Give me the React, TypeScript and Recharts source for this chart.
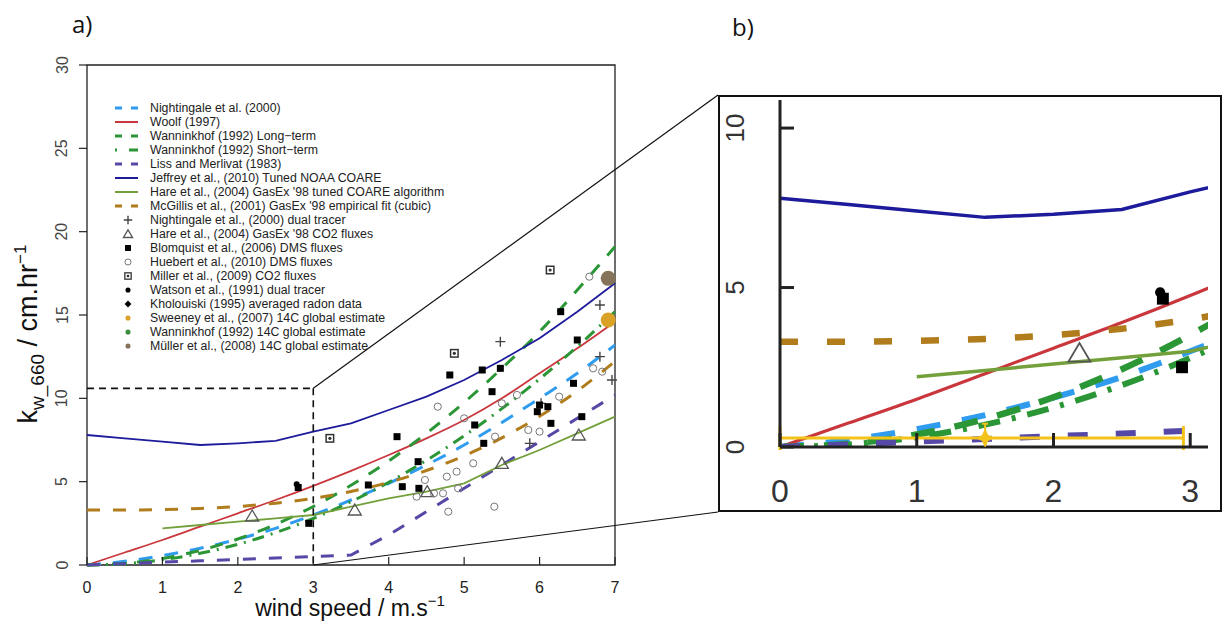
import {
  ComposedChart,
  ErrorBar,
  Legend,
  Line,
  ReferenceArea,
  ReferenceLine,
  Scatter,
  XAxis,
  YAxis,
} from "recharts"

const FONT = '"Liberation Sans", Arial, Helvetica, sans-serif'

// wind speed grid (m/s) for the parameterisation curves
const windGrid = [0, 0.5, 1, 1.5, 2, 2.5, 3, 3.5, 4, 4.5, 5, 5.5, 6, 6.5, 7]

// k_w_660 (cm/hr)
const nightingale2000 = [0, 0.22, 0.56, 1.0, 1.55, 2.2, 3.0, 3.9, 4.9, 6.0, 7.2, 8.55, 10.0, 11.5, 13.2]
const woolf1997 = [0, 0.75, 1.5, 2.3, 3.1, 3.9, 4.75, 5.65, 6.6, 7.6, 8.7, 10.0, 11.5, 13.0, 14.6]
const wanninkhofLong = [0, 0.1, 0.39, 0.88, 1.56, 2.44, 3.51, 4.78, 6.24, 7.9, 9.75, 11.8, 14.0, 16.5, 19.1]
const wanninkhofShort = [0, 0.08, 0.31, 0.7, 1.24, 1.94, 2.79, 3.8, 4.96, 6.28, 7.75, 9.38, 11.16, 13.1, 15.2]
const lissMerlivat = [0, 0.08, 0.17, 0.25, 0.34, 0.42, 0.51, 0.6, 1.8, 3.2, 4.6, 6.0, 7.4, 8.8, 10.2]
const jeffrey2010 = [7.8, 7.6, 7.4, 7.2, 7.3, 7.45, 8.0, 8.5, 9.3, 10.1, 11.1, 12.3, 13.6, 15.2, 16.9]
const hare2004Coare = [null, null, 2.2, 2.4, 2.6, 2.8, 3.0, 3.5, 4.0, 4.4, 4.9, 6.0, 6.9, 7.9, 8.9]
const mcgillis2001 = [3.3, 3.3, 3.33, 3.39, 3.51, 3.71, 4.0, 4.41, 4.96, 5.67, 6.55, 7.63, 8.92, 10.44, 12.22]

// observations [wind speed, k]
const nightingaleDualTracer = [[5.48, 13.4], [5.87, 7.3], [6.02, 9.7], [6.8, 15.6], [6.8, 12.5], [6.96, 11.1]]
const hareCO2Fluxes = [[2.19, 2.94], [3.55, 3.3], [4.51, 4.4], [5.5, 6.1], [6.52, 7.8]]
const blomquistDMS = [
  [2.8, 4.65], [2.94, 2.5], [3.73, 4.8], [4.11, 7.7], [4.18, 4.7], [4.4, 4.6], [4.39, 6.2],
  [4.81, 11.4], [5.14, 8.4], [5.24, 11.7], [5.26, 7.3], [5.37, 10.4], [5.48, 11.8], [5.97, 9.2],
  [6.0, 9.6], [6.11, 9.5], [6.15, 8.5], [6.28, 15.2], [6.45, 10.9], [6.5, 13.5], [6.56, 8.9],
]
const huebertDMS = [
  [4.37, 4.1], [4.48, 5.1], [4.6, 4.3], [4.65, 9.5], [4.72, 4.3], [4.77, 5.3], [4.79, 3.2],
  [4.9, 5.6], [4.92, 4.6], [5.0, 8.8], [5.12, 6.1], [5.4, 3.5], [5.41, 7.7], [5.5, 9.7],
  [5.7, 10.2], [5.85, 8.1], [6.0, 8.0], [6.26, 10.1], [6.66, 17.3], [6.71, 11.8], [6.83, 11.6],
]
const millerCO2 = [[3.22, 7.6], [4.87, 12.7], [6.14, 17.7]]
const watsonDualTracer = [[2.78, 4.85]]
const kholouiskiRadon: number[][] = []
const sweeney14C = [[6.91, 14.7]]
const wanninkhof14C: number[][] = []
const muller14C = [[6.91, 17.2]]

// yellow estimate with error bars in the inset
const insetEstimate = [{ u: 1.5, k: 0.28, ex: [1.5, 1.45], ey: [0.28, 0.45] }]

const curveTable = windGrid.map((u, i) => ({
  u,
  nightingale: nightingale2000[i],
  woolf: woolf1997[i],
  wannLong: wanninkhofLong[i],
  wannShort: wanninkhofShort[i],
  liss: lissMerlivat[i],
  jeffrey: jeffrey2010[i],
  hareCoare: hare2004Coare[i],
  mcgillis: mcgillis2001[i],
}))

const SERIES = [
  { key: "nightingale", name: "Nightingale et al. (2000)", color: "#2f9cf0", dash: "14 12", dashB: "24 22", legendDash: "7 9", w: 3, wB: 6, curve: "monotone" },
  { key: "woolf", name: "Woolf (1997)", color: "#c9373d", dash: undefined, dashB: undefined, legendDash: undefined, w: 1.8, wB: 3.2, curve: "monotone" },
  { key: "wannLong", name: "Wanninkhof (1992) Long\u2212term", color: "#2b9636", dash: "13 12", dashB: "24 20", legendDash: "7 9", w: 3, wB: 6.5, curve: "monotone" },
  { key: "wannShort", name: "Wanninkhof (1992) Short\u2212term", color: "#2b9636", dash: "12 7 2 7", dashB: "22 12 4 12", legendDash: "2 12 9", w: 3, wB: 6, curve: "monotone" },
  { key: "liss", name: "Liss and Merlivat (1983)", color: "#5548a6", dash: "13 13", dashB: "20 28", legendDash: "7 9", w: 3, wB: 6, curve: "linear" },
  { key: "jeffrey", name: "Jeffrey et al., (2010) Tuned NOAA COARE", color: "#1d1b9b", dash: undefined, dashB: undefined, legendDash: undefined, w: 1.8, wB: 3.5, curve: "linear" },
  { key: "hareCoare", name: "Hare et al., (2004) GasEx '98 tuned COARE algorithm", color: "#74a03c", dash: undefined, dashB: undefined, legendDash: undefined, w: 1.8, wB: 3.5, curve: "linear" },
  { key: "mcgillis", name: "McGillis et al., (2001) GasEx '98 empirical fit (cubic)", color: "#b07c1c", dash: "13 13", dashB: "18 29", legendDash: "7 9", w: 3, wB: 6.5, curve: "monotone" },
]

const POINTS = [
  { name: "Nightingale et al., (2000) dual tracer", kind: "plus", color: "#444", data: nightingaleDualTracer },
  { name: "Hare et al., (2004) GasEx '98 CO2 fluxes", kind: "triangle", color: "#555", data: hareCO2Fluxes },
  { name: "Blomquist et al., (2006) DMS fluxes", kind: "square", color: "#000", data: blomquistDMS },
  { name: "Huebert et al., (2010) DMS fluxes", kind: "circle", color: "#777", data: huebertDMS },
  { name: "Miller et al., (2009) CO2 fluxes", kind: "boxdot", color: "#333", data: millerCO2 },
  { name: "Watson et al., (1991) dual tracer", kind: "dot", color: "#000", data: watsonDualTracer },
  { name: "Kholouiski (1995) averaged radon data", kind: "diamond", color: "#000", data: kholouiskiRadon },
  { name: "Sweeney et al., (2007) 14C global estimate", kind: "bigdot", color: "#d9a226", data: sweeney14C },
  { name: "Wanninkhof (1992) 14C global estimate", kind: "bigdot", color: "#3b8c3b", data: wanninkhof14C },
  { name: "Müller et al., (2008) 14C global estimate", kind: "bigdot", color: "#85735a", data: muller14C },
]

const toPts = (arr: number[][]) => arr.map(([u, k]) => ({ u, k }))

function drawMark(kind: string, cx: number, cy: number, s: number, color: string) {
  switch (kind) {
    case "plus":
      return <path d={`M${cx - 5 * s},${cy}H${cx + 5 * s}M${cx},${cy - 5 * s}V${cy + 5 * s}`} stroke={color} strokeWidth={1.4} fill="none" />
    case "triangle":
      return <path d={`M${cx},${cy - 6 * s}L${cx + 6.5 * s},${cy + 5 * s}L${cx - 6.5 * s},${cy + 5 * s}Z`} stroke={color} strokeWidth={1.3 * Math.max(1, s * 0.8)} fill="none" />
    case "square":
      return <rect x={cx - 3.5 * s} y={cy - 3.5 * s} width={7 * s} height={7 * s} fill={color} />
    case "circle":
      return <circle cx={cx} cy={cy} r={3.6 * s} stroke={color} strokeWidth={1} fill="none" />
    case "boxdot":
      return (
        <g>
          <rect x={cx - 4.5 * s} y={cy - 4.5 * s} width={9 * s} height={9 * s} fill={color} />
          <rect x={cx - 3 * s} y={cy - 3 * s} width={6 * s} height={6 * s} fill="#fff" />
          <circle cx={cx} cy={cy} r={1.6 * s} fill={color} />
        </g>
      )
    case "dot":
      return <circle cx={cx} cy={cy} r={3 * s} fill={color} />
    case "diamond":
      return <path d={`M${cx},${cy - 4 * s}L${cx + 4 * s},${cy}L${cx},${cy + 4 * s}L${cx - 4 * s},${cy}Z`} fill={color} />
    default:
      return <circle cx={cx} cy={cy} r={7.5 * s} fill={color} />
  }
}

const shapeFor = (kind: string, s: number, color: string) => (props: any) => drawMark(kind, props.cx, props.cy, s, color)

const starShape = (props: any) => {
  const { cx, cy } = props
  return (
    <path
      d={`M${cx},${cy - 10}L${cx + 3},${cy - 3}L${cx + 10},${cy}L${cx + 3},${cy + 3}L${cx},${cy + 10}L${cx - 3},${cy + 3}L${cx - 10},${cy}L${cx - 3},${cy - 3}Z`}
      fill="#f4c319"
    />
  )
}

function LegendBox() {
  return (
    <div style={{ fontFamily: FONT, fontSize: 12.3, color: "#222", lineHeight: "14px" }}>
      {SERIES.map((s) => (
        <div key={s.key} style={{ display: "flex", alignItems: "center", height: 14, whiteSpace: "nowrap" }}>
          <svg width={40} height={14}>
            <line x1={5} x2={28} y1={7} y2={7} stroke={s.color} strokeWidth={s.dash ? 3 : 2} strokeDasharray={s.legendDash} />
          </svg>
          <span>{s.name}</span>
        </div>
      ))}
      {POINTS.map((p) => (
        <div key={p.name} style={{ display: "flex", alignItems: "center", height: 14, whiteSpace: "nowrap" }}>
          <svg width={40} height={14}>{drawMark(p.kind === "bigdot" ? "dot" : p.kind, 18, 7, p.kind === "triangle" ? 0.7 : 0.85, p.color)}</svg>
          <span>{p.name}</span>
        </div>
      ))}
    </div>
  )
}

const XTickA = ({ x, y, payload }: any) => (
  <g>
    <line x1={x} x2={x} y1={y} y2={y - 8} stroke="#222" strokeWidth={1.2} />
    <text x={x} y={y + 28} textAnchor="middle" fontSize={16} fill="#222" fontFamily={FONT}>{payload.value}</text>
  </g>
)

const YTickA = ({ x, y, payload }: any) => (
  <g>
    <line x1={x} x2={x - 8} y1={y} y2={y} stroke="#222" strokeWidth={1.2} />
    <text x={x - 25} y={y} transform={`rotate(-90 ${x - 25} ${y})`} textAnchor="middle" dominantBaseline="central" fontSize={16} fill="#444" fontFamily={FONT}>
      {payload.value}
    </text>
  </g>
)

const XTickB = ({ x, y, payload }: any) => (
  <g>
    <line x1={x} x2={x} y1={y} y2={y - 14} stroke="#222" strokeWidth={3} />
    <text x={x} y={y + 55} textAnchor="middle" fontSize={32} fill="#333" fontFamily={FONT}>{payload.value}</text>
  </g>
)

const YTickB = ({ x, y, payload }: any) => (
  <g>
    <line x1={x} x2={x + 14} y1={y} y2={y} stroke="#222" strokeWidth={3} />
    <text x={x - 45} y={y} transform={`rotate(-90 ${x - 45} ${y})`} textAnchor="middle" dominantBaseline="central" fontSize={26} fill="#333" fontFamily={FONT}>
      {payload.value}
    </text>
  </g>
)

const YTitle = () => (
  <text x={37} y={334} transform="rotate(-90 37 334)" textAnchor="middle" fontSize={27} fill="#111" fontFamily={FONT}>
    k<tspan fontSize={19} dy={7}>w_660</tspan>
    <tspan fontSize={27} dy={-7}> / cm.hr</tspan>
    <tspan fontSize={17} dy={-11}>{"\u22121"}</tspan>
  </text>
)

const XTitle = () => (
  <text x={350} y={616} textAnchor="middle" fontSize={23} fill="#111" fontFamily={FONT}>
    wind speed / m.s<tspan fontSize={15} dy={-10}>{"\u22121"}</tspan>
  </text>
)

export default function App() {
  return (
    <div style={{ position: "absolute", left: 0, top: 0, width: 1227, height: 628, background: "#fff", overflow: "hidden" }}>
      <div style={{ position: "absolute", left: 72, top: 7, fontFamily: '"Open Sans", sans-serif', fontSize: 24, color: "#111" }}>a)</div>
      <div style={{ position: "absolute", left: 732, top: 10, fontFamily: '"Open Sans", sans-serif', fontSize: 24, color: "#111" }}>b)</div>

      <div style={{ position: "absolute", left: 0, top: 0 }}>
        <ComposedChart width={722} height={628} data={curveTable} margin={{ top: 65, right: 107, bottom: 33, left: 47 }}>
          <XAxis
            dataKey="u"
            type="number"
            domain={[0, 7]}
            ticks={[0, 1, 2, 3, 4, 5, 6, 7]}
            interval={0}
            height={30}
            axisLine={false}
            tickLine={false}
            tickSize={0}
            tickMargin={0}
            tick={<XTickA />}
            label={<XTitle />}
          />
          <YAxis
            type="number"
            domain={[0, 30]}
            ticks={[0, 5, 10, 15, 20, 25, 30]}
            interval={0}
            width={40}
            axisLine={false}
            tickLine={false}
            tickSize={0}
            tickMargin={0}
            tick={<YTickA />}
            label={<YTitle />}
          />
          <ReferenceArea x1={0} x2={7} y1={0} y2={30} fill="none" stroke="#222" strokeWidth={1.3} ifOverflow="visible" />
          {SERIES.map((s) => (
            <Line
              key={s.key}
              dataKey={s.key}
              name={s.name}
              type={s.curve as any}
              stroke={s.color}
              strokeWidth={s.w}
              strokeDasharray={s.dash}
              dot={false}
              activeDot={false}
              isAnimationActive={false}
            />
          ))}
          {POINTS.filter((p) => p.data.length > 0).map((p) => (
            <Scatter
              key={p.name}
              name={p.name}
              data={toPts(p.data)}
              dataKey="k"
              shape={shapeFor(p.kind, 1, p.color)}
              isAnimationActive={false}
            />
          ))}
          <ReferenceLine segment={[{ x: 0, y: 10.6 }, { x: 3, y: 10.6 }]} stroke="#111" strokeWidth={1.6} strokeDasharray="7 5" ifOverflow="visible" />
          <ReferenceLine segment={[{ x: 3, y: 10.6 }, { x: 3, y: 0 }]} stroke="#111" strokeWidth={1.6} strokeDasharray="7 5" ifOverflow="visible" />
          <ReferenceLine segment={[{ x: 3, y: 10.6 }, { x: 8.366, y: 28.2 }]} stroke="#111" strokeWidth={1.2} ifOverflow="visible" />
          <ReferenceLine segment={[{ x: 3, y: 0 }, { x: 8.366, y: 3.18 }]} stroke="#111" strokeWidth={1.2} ifOverflow="visible" />
          <Legend
            layout="vertical"
            align="center"
            verticalAlign="middle"
            content={() => <LegendBox />}
            wrapperStyle={{ left: 110, top: 101, width: "auto" }}
          />
        </ComposedChart>
      </div>

      <div
        style={{
          position: "absolute",
          left: 718,
          top: 95,
          width: 504,
          height: 417,
          border: "2px solid #111",
          boxSizing: "border-box",
        }}
      >
        <ComposedChart width={500} height={413} data={curveTable} margin={{ top: 3, right: 12, bottom: 23, left: 10 }}>
          <XAxis
            dataKey="u"
            type="number"
            domain={[0, 3.13]}
            allowDataOverflow
            ticks={[0, 1, 2, 3]}
            interval={0}
            height={40}
            axisLine={{ stroke: "#222", strokeWidth: 3 }}
            tickLine={false}
            tickSize={0}
            tickMargin={0}
            tick={<XTickB />}
          />
          <YAxis
            type="number"
            domain={[0, 10.88]}
            allowDataOverflow
            ticks={[0, 5, 10]}
            interval={0}
            width={50}
            axisLine={{ stroke: "#222", strokeWidth: 3 }}
            tickLine={false}
            tickSize={0}
            tickMargin={0}
            tick={<YTickB />}
          />
          {SERIES.map((s) => (
            <Line
              key={s.key}
              dataKey={s.key}
              name={s.name}
              type={s.curve as any}
              stroke={s.color}
              strokeWidth={s.wB}
              strokeDasharray={s.dashB}
              dot={false}
              activeDot={false}
              isAnimationActive={false}
            />
          ))}
          {POINTS.map((p) => {
            const inRange = p.data.filter(([u]) => u <= 3.13)
            if (inRange.length === 0) return null
            return (
              <Scatter
                key={p.name}
                name={p.name}
                data={toPts(inRange)}
                dataKey="k"
                shape={shapeFor(p.kind, 1.7, p.color)}
                isAnimationActive={false}
              />
            )
          })}
          <Scatter data={insetEstimate} dataKey="k" shape={starShape} isAnimationActive={false}>
            <ErrorBar dataKey="ex" direction="x" width={12} stroke="#f4c319" strokeWidth={3} isAnimationActive={false} />
            <ErrorBar dataKey="ey" direction="y" width={3} stroke="#f4c319" strokeWidth={2} isAnimationActive={false} />
          </Scatter>
        </ComposedChart>
      </div>
    </div>
  )
}
